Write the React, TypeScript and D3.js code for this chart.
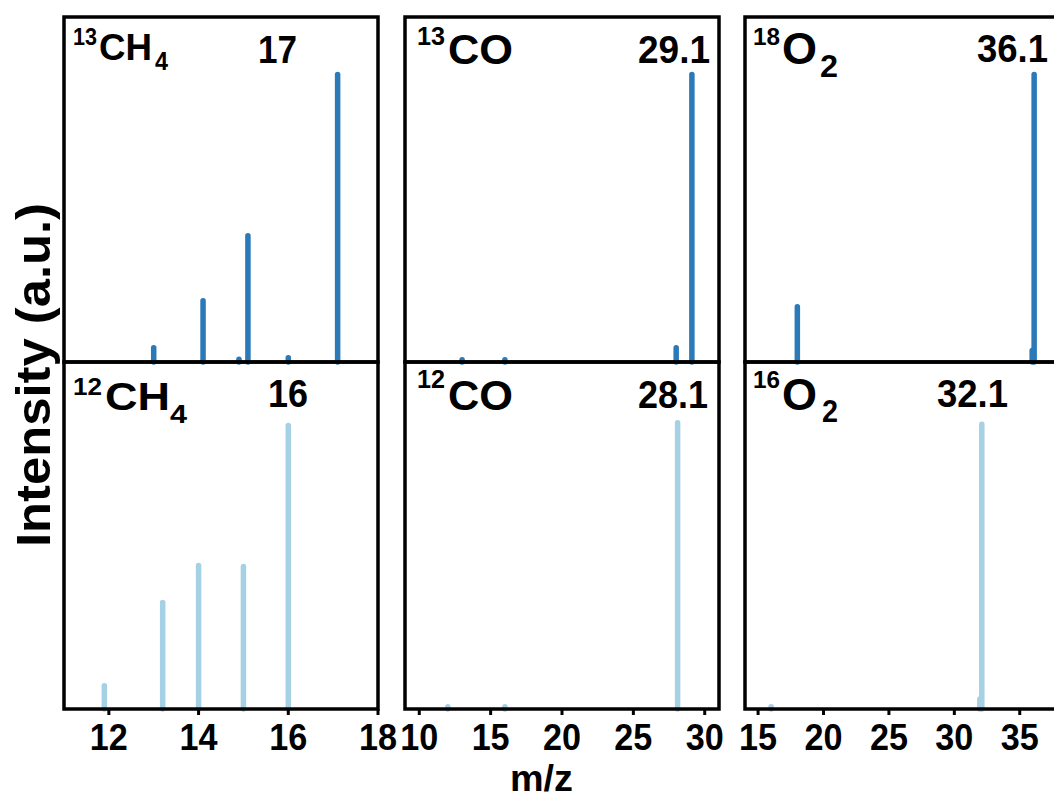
import React from "react";
import * as d3 from "d3";

// ---- data ----
const ch4_13_mz = [13.0, 14.1, 14.9, 15.1, 16.0, 17.1];
const ch4_13_int = [5.0, 21.3, 1.0, 43.9, 1.5, 100];
const ch4_12_mz = [11.9, 13.2, 14.0, 15.0, 16.0];
const ch4_12_int = [8.0, 36.8, 49.6, 49.3, 98];
const co_13_mz = [13.0, 16.0, 28.0, 29.1];
const co_13_int = [0.8, 0.8, 5.0, 100];
const co_12_mz = [12.0, 16.0, 28.1];
const co_12_int = [0.8, 0.8, 99];
const o2_18_mz = [18.0, 35.95, 36.1];
const o2_18_int = [19.2, 4, 100];
const o2_16_mz = [16.0, 31.95, 32.1];
const o2_16_int = [0.8, 3.5, 98.5];

const ticksCol1 = [12, 14, 16, 18];
const ticksCol2 = [10, 15, 20, 25, 30];
const ticksCol3 = [15, 20, 25, 30, 35];

const domains: [number, number][] = [[11, 18], [9, 31], [14, 38]];

// ---- layout ----
const W = 1054, H = 799;
const colX = [64, 405, 745];
const colW = 314;
const rowTop = [17, 362];
const rowBottom = [362, 709];
const yMax = 120;
const dark = "#2a79b8";
const light = "#a6d0e4";
const FONT = "'Liberation Sans', Arial, Helvetica, sans-serif";

type Panel = {
  col: number; row: number; mz: number[]; val: number[]; color: string;
  sup: string; main: string; sub: string; peak: string;
  supX: number; supY: number; supW: number; supF: number;
  mainX: number; mainY: number; mainW: number; mainF: number;
  subX: number; subY: number; subW: number; subF: number;
  peakX: number; peakY: number; peakW: number;
};

const panels: Panel[] = [
  { col: 0, row: 0, mz: ch4_13_mz, val: ch4_13_int, color: dark, sup: "13", main: "CH", sub: "4", peak: "17",
    supX: 73, supY: 45, supW: 24, supF: 23, mainX: 99, mainY: 60, mainW: 53, mainF: 37,
    subX: 155, subY: 70, subW: 13, subF: 26, peakX: 258, peakY: 63, peakW: 39 },
  { col: 0, row: 1, mz: ch4_12_mz, val: ch4_12_int, color: light, sup: "12", main: "CH", sub: "4", peak: "16",
    supX: 73, supY: 395, supW: 29, supF: 24, mainX: 105, mainY: 410, mainW: 65, mainF: 38,
    subX: 170, subY: 423, subW: 17, subF: 26, peakX: 268, peakY: 407, peakW: 40 },
  { col: 1, row: 0, mz: co_13_mz, val: co_13_int, color: dark, sup: "13", main: "CO", sub: "", peak: "29.1",
    supX: 417, supY: 45, supW: 28, supF: 25, mainX: 448, mainY: 64, mainW: 65, mainF: 43,
    subX: 0, subY: 0, subW: 0, subF: 0, peakX: 638, peakY: 63, peakW: 72 },
  { col: 1, row: 1, mz: co_12_mz, val: co_12_int, color: light, sup: "12", main: "CO", sub: "", peak: "28.1",
    supX: 417, supY: 388, supW: 28, supF: 25, mainX: 448, mainY: 410, mainW: 65, mainF: 43,
    subX: 0, subY: 0, subW: 0, subF: 0, peakX: 638, peakY: 408, peakW: 70 },
  { col: 2, row: 0, mz: o2_18_mz, val: o2_18_int, color: dark, sup: "18", main: "O", sub: "2", peak: "36.1",
    supX: 753, supY: 45, supW: 27, supF: 24, mainX: 782, mainY: 64, mainW: 35, mainF: 44,
    subX: 820, subY: 77, subW: 18, subF: 32, peakX: 977, peakY: 62, peakW: 71 },
  { col: 2, row: 1, mz: o2_16_mz, val: o2_16_int, color: light, sup: "16", main: "O", sub: "2", peak: "32.1",
    supX: 753, supY: 388, supW: 27, supF: 24, mainX: 782, mainY: 410, mainW: 35, mainF: 44,
    subX: 822, subY: 422, subW: 16, subF: 32, peakX: 937, peakY: 407, peakW: 71 },
];

const colTicks = [ticksCol1, ticksCol2, ticksCol3];

function T(props: { x: number; y: number; w: number; f: number; children: string }) {
  return (
    <text x={props.x} y={props.y} fontSize={props.f} fontWeight="bold" fontFamily={FONT}
      textLength={props.w} lengthAdjust="spacingAndGlyphs" fill="#000">
      {props.children}
    </text>
  );
}

export default function App() {
  const xScales = domains.map((d, i) => d3.scaleLinear().domain(d).range([colX[i], colX[i] + colW]));
  const yScales = rowTop.map((t, r) => d3.scaleLinear().domain([0, yMax]).range([rowBottom[r], t]));

  return (
    <svg width={W} height={H} style={{ position: "absolute", left: 0, top: 0, background: "#fff" }}>
      {/* stick spectra */}
      {panels.map((p, pi) => {
        const x = xScales[p.col];
        const y = yScales[p.row];
        return (
          <g key={"s" + pi}>
            {p.mz.map((m, i) => (
              <line key={i} x1={x(m)} x2={x(m)} y1={y(0)} y2={y(p.val[i])}
                stroke={p.color} strokeWidth={5.5} strokeLinecap="round" />
            ))}
          </g>
        );
      })}
      {/* frames */}
      {panels.map((p, pi) => (
        <rect key={"f" + pi} x={colX[p.col]} y={rowTop[p.row]} width={colW}
          height={rowBottom[p.row] - rowTop[p.row]} fill="none" stroke="#000" strokeWidth={3.5} />
      ))}
      {/* x ticks */}
      {colTicks.map((ticks, c) => (
        <g key={"t" + c}>
          {ticks.map((t) => (
            <g key={t}>
              <line x1={xScales[c](t)} x2={xScales[c](t)} y1={rowBottom[1]} y2={rowBottom[1] + 6}
                stroke="#000" strokeWidth={3} />
              <text x={xScales[c](t)} y={750} textAnchor="middle" fontSize={36} fontWeight="bold"
                fontFamily={FONT} textLength={38} lengthAdjust="spacingAndGlyphs">{String(t)}</text>
            </g>
          ))}
        </g>
      ))}
      {/* labels */}
      {panels.map((p, pi) => (
        <g key={"l" + pi}>
          <T x={p.supX} y={p.supY} w={p.supW} f={p.supF}>{p.sup}</T>
          <T x={p.mainX} y={p.mainY} w={p.mainW} f={p.mainF}>{p.main}</T>
          {p.sub ? <T x={p.subX} y={p.subY} w={p.subW} f={p.subF}>{p.sub}</T> : null}
          <T x={p.peakX} y={p.peakY} w={p.peakW} f={38}>{p.peak}</T>
        </g>
      ))}
      {/* axis titles */}
      <text x={510} y={791} fontSize={36} fontWeight="bold" fontFamily={FONT}
        textLength={63} lengthAdjust="spacingAndGlyphs">m/z</text>
      <text transform="translate(50,375) rotate(-90)" textAnchor="middle" fontSize={48} fontWeight="bold"
        fontFamily={FONT} textLength={344} lengthAdjust="spacingAndGlyphs">Intensity (a.u.)</text>
    </svg>
  );
}
